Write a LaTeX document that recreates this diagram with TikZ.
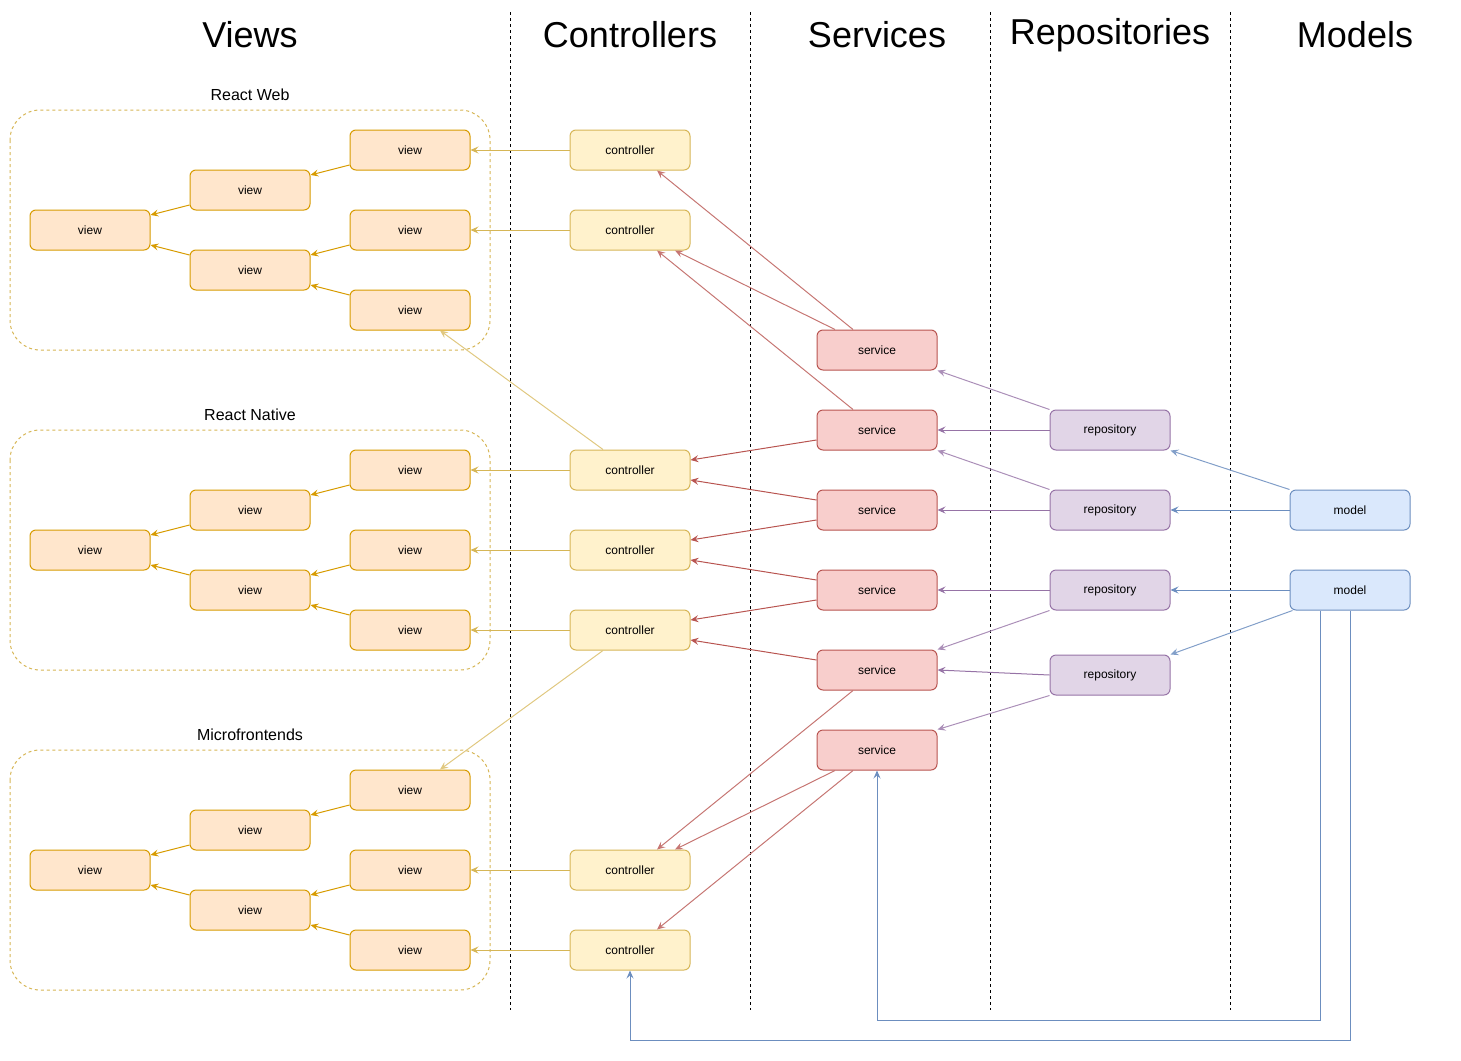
\documentclass[tikz,border=0pt]{standalone}
\usepackage{fontspec}
\setmainfont{Liberation Sans}
\usetikzlibrary{arrows.meta,calc}
\definecolor{viewfill}{HTML}{FFE6CC}
\definecolor{viewline}{HTML}{D79B00}
\definecolor{ctrlfill}{HTML}{FFF2CC}
\definecolor{ctrlline}{HTML}{D6B656}
\definecolor{servfill}{HTML}{F8CECC}
\definecolor{servline}{HTML}{B85450}
\definecolor{repofill}{HTML}{E1D5E7}
\definecolor{repoline}{HTML}{9673A6}
\definecolor{modelfill}{HTML}{DAE8FC}
\definecolor{modelline}{HTML}{6C8EBF}

\begin{document}
\begin{tikzpicture}[x=1pt, y=-1pt,
    box/.style={draw, rounded corners=6pt, minimum width=120pt, minimum height=40pt,
        inner sep=0pt, line width=1pt, font=\fontsize{12}{14}\selectfont},
    viewbox/.style={box, fill=viewfill, draw=viewline},
    ctrlbox/.style={box, fill=ctrlfill, draw=ctrlline},
    servbox/.style={box, fill=servfill, draw=servline},
    repobox/.style={box, fill=repofill, draw=repoline},
    modelbox/.style={box, fill=modelfill, draw=modelline},
    link/.style={line width=1pt, -{Stealth[length=8pt,width=7pt,inset=3pt]}},
    header/.style={font=\fontsize{36}{40}\selectfont},
    grouplabel/.style={font=\fontsize{16}{18}\selectfont},
    groupbox/.style={draw=ctrlline, line width=1pt, dash pattern=on 3pt off 3pt, rounded corners=30pt},
    divider/.style={line width=1pt, dash pattern=on 3pt off 3pt}
]
    \useasboundingbox (0,0) rectangle (1461,1060);

    %layers
    \foreach \x/\t [count=\i] in {250/Views, 630/Controllers, 877/Services, 1110/Repositories, 1355/Models} {
        \node[header] (h\i) at (\x,35) {\t};
    }
    \foreach \x in {510,750,990,1230} {
        \draw[divider] (\x,12) -- (\x,1010);
    }

    %views
    \foreach \g/\o/\t in {1/0/React Web, 2/320/React Native, 3/640/Microfrontends} {
        \draw[groupbox] (10,\o+110) rectangle (490,\o+350);
        \node[grouplabel] (g\g) at (250,\o+95) {\t};
        \foreach \j/\x/\y in {1/410/150, 2/250/190, 3/90/230, 4/410/230, 5/250/270, 6/410/310} {
            \node[viewbox] (v\g\j) at (\x,\o+\y) {view};
        }
        \foreach \a/\b/\sa/\sb in {1/2/-15/15, 2/3/-15/15, 4/5/-15/15, 5/3/15/-15, 6/5/15/-15} {
            \draw[link, viewline] ([yshift=\sa pt]v\g\a.west) -- ([yshift=\sb pt]v\g\b.east);
        }
    }

    %controllers
    \foreach \i/\y in {1/150, 2/230, 3/470, 4/550, 5/630, 6/870, 7/950} {
        \node[ctrlbox] (c\i) at (630,\y) {controller};
    }
    \foreach \i/\v in {1/v11, 2/v14, 3/v21, 4/v24, 5/v26, 6/v34, 7/v36} {
        \draw[link, ctrlline] (c\i.west) -- (\v.east);
    }
    \draw[link, ctrlline!75] ([xshift=-27pt]c3.north) -- ([xshift=30pt]v16.south);
    \draw[link, ctrlline!75] ([xshift=-27pt]c5.south) -- ([xshift=30pt]v31.north);

    %services
    \foreach \i/\y in {1/350, 2/430, 3/510, 4/590, 5/670, 6/750} {
        \node[servbox] (s\i) at (877,\y) {service};
    }
    \foreach \a/\da/\b/\db in {s1.north/-24/c1.south/27, s1.north/-42/c2.south/45,
        s2.north/-24/c2.south/27, s5.south/-24/c6.north/27,
        s6.south/-42/c6.north/45, s6.south/-24/c7.north/27} {
        \draw[link, servline!80] ([xshift=\da pt]\a) -- ([xshift=\db pt]\b);
    }
    \foreach \a/\b/\sa/\sb in {2/3/-10/10, 3/3/10/-10, 3/4/-10/10, 4/4/10/-10, 4/5/-10/10, 5/5/10/-10} {
        \draw[link, servline] ([yshift=\sa pt]s\a.west) -- ([yshift=\sb pt]c\b.east);
    }

    %repositories
    \foreach \i/\y in {1/430, 2/510, 3/590, 4/675} {
        \node[repobox] (r\i) at (1110,\y) {repository};
    }
    \foreach \a/\b in {1/2, 2/3, 3/4, 4/5} {
        \draw[link, repoline] (r\a.west) -- (s\b.east);
    }
    \draw[link, repoline!80] (r1.north west) -- (s1.south east);
    \draw[link, repoline!80] (r2.north west) -- (s2.south east);
    \draw[link, repoline!80] (r3.south west) -- (s5.north east);
    \draw[link, repoline!80] (r4.south west) -- (s6.north east);

    %models
    \node[modelbox] (m1) at (1350,510) {model};
    \node[modelbox] (m2) at (1350,590) {model};
    \draw[link, modelline] (m1.west) -- (r2.east);
    \draw[link, modelline] (m2.west) -- (r3.east);
    \draw[link, modelline!85] (m1.north west) -- (r1.south east);
    \draw[link, modelline!85] ([xshift=3pt]m2.south west) -- (r4.north east);
    \draw[link, modelline] ([xshift=-30pt]m2.south) -- ++(0,410) -| (s6.south);
    \draw[link, modelline] (m2.south) -- ++(0,430) -| (c7.south);
\end{tikzpicture}
\end{document}
